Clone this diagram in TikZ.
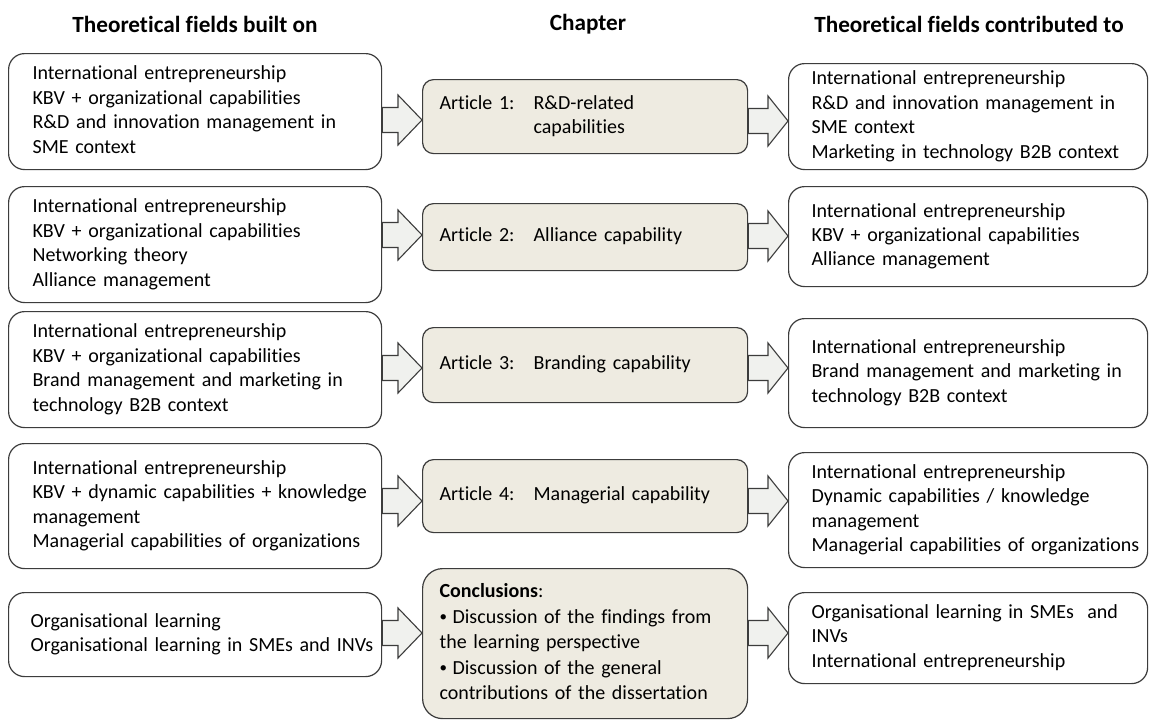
\documentclass[tikz,border=0pt]{standalone}
\usepackage{fontspec}
\setmainfont{Carlito}[Ligatures=NoCommon]
\usetikzlibrary{calc}
\definecolor{bord}{HTML}{3C3C3C}
\definecolor{midfill}{HTML}{EEEBE1}
\definecolor{arrfill}{HTML}{F0F1EE}
\tikzset{
  base/.style={draw=bord, line width=1.2pt, inner xsep=0pt, inner ysep=0pt,
    anchor=north west, align=left, font=\fontsize{20}{24.4}\selectfont},
  sidebox/.style={base, rounded corners=16pt, fill=white},
  midbox/.style={base, rounded corners=11pt, fill=midfill, text width=325pt},
  leftbox/.style={sidebox, text width=373pt},
  rightbox/.style={sidebox, text width=359pt},
  header/.style={font=\fontsize{23.2}{26}\selectfont\bfseries, inner sep=0pt},
  blockarrow/.style={draw=bord, line width=1.1pt, fill=arrfill, line join=miter},
}
\newcommand\barrow[4]{%
  \draw[blockarrow] let \p1=(#1.east), \p2=(#2.west), \p3=(0,#3) in
    (\x1,\y3+12.5pt) -- (\x2-#4,\y3+12.5pt) -- (\x2-#4,\y3+25pt) -- (\x2,\y3)
    -- (\x2-#4,\y3-25pt) -- (\x2-#4,\y3-12.5pt) -- (\x1,\y3-12.5pt) -- cycle;}
\newcommand\tabart[1]{\makebox[94pt][l]{#1}}
\newcommand\lines[2]{\hspace*{#1}\begin{tabular}{@{}l@{}}#2\end{tabular}}
\newcommand\bul{\makebox[13pt][l]{\raisebox{1.5pt}{\fontsize{15}{15}\selectfont •}}}
\begin{document}
\begin{tikzpicture}[x=1pt,y=-1pt]
\useasboundingbox (0,0) rectangle (1150,720);
\fill[white] (0,0) rectangle (1150,720);

\node[header] (h1) at (195,24) {Theoretical fields built on};
\node[header] (h2) at (588,24) {Chapter};
\node[header] (h3) at (969,24) {Theoretical fields contributed to};

% middle boxes
\node[midbox, minimum height=74pt] (M1) at (422,79)
  {\lines{17pt}{\tabart{Article 1:}R\&D-related\\\tabart{}capabilities}};
\node[midbox, minimum height=67pt] (M2) at (422,203)
  {\lines{17pt}{\tabart{Article 2:}Alliance capability}};
\node[midbox, minimum height=75pt] (M3) at (422,327)
  {\lines{17pt}{\tabart{Article 3:}Branding capability}};
\node[midbox, minimum height=73pt] (M4) at (422,459)
  {\lines{17pt}{\tabart{Article 4:}Managerial capability}};
\node[midbox, rounded corners=20pt, minimum height=150pt,
  font=\fontsize{20}{25.6}\selectfont] (M5) at (422,568)
  {\lines{17pt}{\textbf{Conclusions}:\\
   \bul Discussion of the findings from\\
   the learning perspective\\
   \bul Discussion of the general\\
   contributions of the dissertation}};

% left boxes
\node[leftbox, minimum height=116pt] (L1) at (8,53)
  {\lines{24pt}{International entrepreneurship\\KBV + organizational capabilities\\R\&D and innovation management in\\SME context}};
\node[leftbox, minimum height=116pt] (L2) at (8,186)
  {\lines{24pt}{International entrepreneurship\\KBV + organizational capabilities\\Networking theory\\Alliance management}};
\node[leftbox, minimum height=116pt] (L3) at (8,311)
  {\lines{24pt}{International entrepreneurship\\KBV + organizational capabilities\\Brand management and marketing in\\technology B2B context}};
\node[leftbox, minimum height=125pt] (L4) at (8,443)
  {\lines{24pt}{International entrepreneurship\\KBV + dynamic capabilities + knowledge\\management\\Managerial capabilities of organizations}};
\node[leftbox, minimum height=84pt] (L5) at (8,592)
  {\lines{22pt}{Organisational learning\\Organisational learning in SMEs and INVs}};

% right boxes
\node[rightbox, minimum height=106pt] (R1) at (788,63)
  {\lines{23pt}{International entrepreneurship\\R\&D and innovation management in\\SME context\\Marketing in technology B2B context}};
\node[rightbox, minimum height=100pt] (R2) at (788,186)
  {\lines{23pt}{International entrepreneurship\\KBV + organizational capabilities\\Alliance management}};
\node[rightbox, minimum height=109pt] (R3) at (788,318)
  {\lines{23pt}{International entrepreneurship\\Brand management and marketing in\\technology B2B context}};
\node[rightbox, minimum height=115pt] (R4) at (788,452)
  {\lines{23pt}{International entrepreneurship\\Dynamic capabilities / knowledge\\management\\Managerial capabilities of organizations}};
\node[rightbox, minimum height=91pt] (R5) at (788,592)
  {\lines{23pt}{Organisational learning in SMEs\ \ and\\INVs\\International entrepreneurship}};

% block arrows
\barrow{L1}{M1}{120}{24pt}
\barrow{L2}{M2}{235}{24pt}
\barrow{L3}{M3}{368}{24pt}
\barrow{L4}{M4}{501}{24pt}
\barrow{L5}{M5}{633}{24pt}
\barrow{M1}{R1}{121}{20pt}
\barrow{M2}{R2}{236}{20pt}
\barrow{M3}{R3}{368}{20pt}
\barrow{M4}{R4}{501}{20pt}
\barrow{M5}{R5}{633}{20pt}
\end{tikzpicture}
\end{document}
